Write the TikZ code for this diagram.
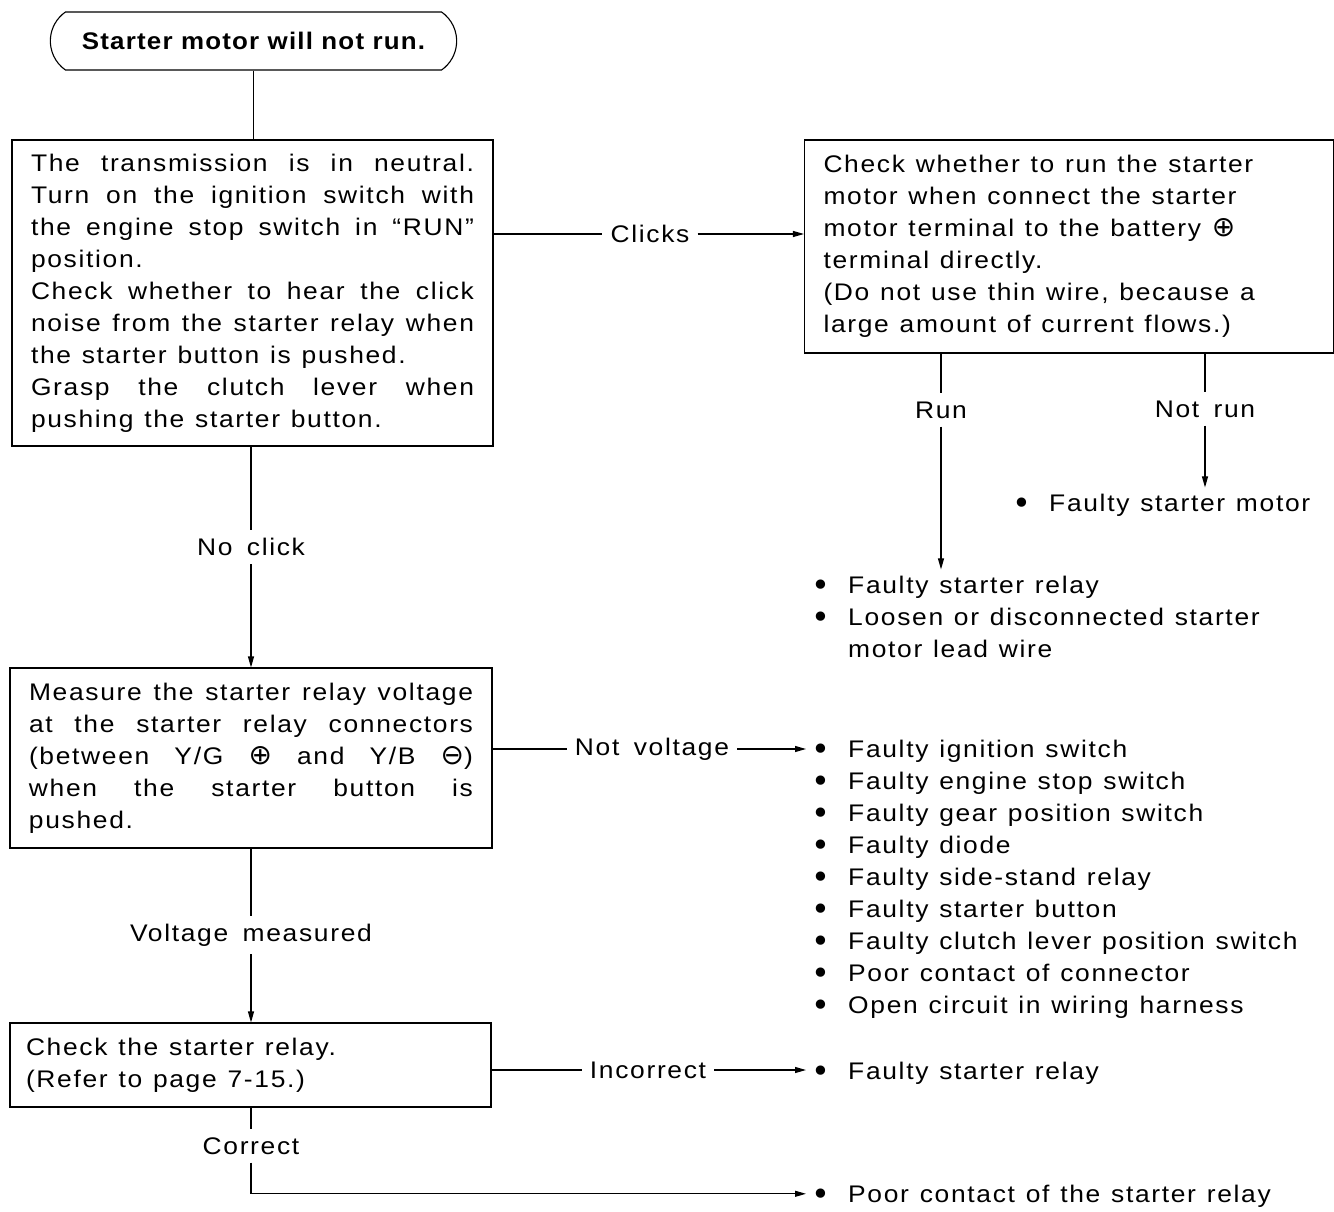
\documentclass[tikz,border=0pt]{standalone}
\usepackage{fontspec}
\setmainfont{Liberation Sans}[FakeStretch=1.1,LetterSpace=7,WordSpace=1.6]
\newfontfamily\titlefont{Liberation Sans Bold}[FakeStretch=1.08,LetterSpace=5]
\newfontfamily\symfont{DejaVu Sans}
\usetikzlibrary{arrows.meta,shapes.misc}
\newcommand{\jl}[2]{\leavevmode\hbox to #1{#2}}
\newcommand{\js}{\hskip 0.3em plus 1fil minus 0.1em\relax}
\newcommand{\wsp}{\spaceskip=0.45em plus 0.2em minus 0.05em\relax}
\newcommand{\myplus}{{\symfont\fontsize{28}{32}\selectfont ⊕}}
\newcommand{\myminus}{{\symfont\fontsize{28}{32}\selectfont ⊖}}
\newcommand{\bul}[1]{\makebox[37pt][l]{\raisebox{-3.5pt}{\symfont\fontsize{32}{32}\selectfont •}}#1}
\newcommand{\ind}[1]{\hspace*{37pt}#1}
\begin{document}
\begin{tikzpicture}[x=1pt,y=-1pt,
  every node/.style={font=\fontsize{24}{32}\selectfont},
  box/.style={draw,line width=1.1pt,inner sep=0pt,align=left,execute at begin node=\wsp},
  lbl/.style={inner sep=8pt},
  lst/.style={inner sep=0pt,anchor=base west,align=left,execute at begin node=\wsp},
  ln/.style={line width=1.1pt},
  arr/.style={-{Triangle[length=11pt,width=6pt]}}]
\useasboundingbox (0,0) rectangle (1334,1212);

\node[draw,line width=1.1pt,rounded rectangle,rounded rectangle arc length=110,
  minimum width=413pt,minimum height=58pt,
  font=\fontsize{24}{28}\selectfont\titlefont] (start) at (253.5,41) {Starter motor will not run.};

\node[box,minimum width=481pt,minimum height=306pt,text width=443pt] (b1) at (252.5,293) {%
\jl{443pt}{The\js transmission\js is\js in\js neutral.}\\
\jl{443pt}{Turn\js on\js the\js ignition\js switch\js with}\\
\jl{443pt}{the\js engine\js stop\js switch\js in\js “RUN”}\\
position.\\
\jl{443pt}{Check\js whether\js to\js hear\js the\js click}\\
\jl{443pt}{noise\js from\js the\js starter\js relay\js when}\\
the starter button is pushed.\\
\jl{443pt}{Grasp\js the\js clutch\js lever\js when}\\
pushing the starter button.};

\node[box,minimum width=529pt,minimum height=213pt,text width=491pt] (b2) at (1069,246.5) {%
Check whether to run the starter\\
motor when connect the starter\\
motor terminal to the battery \myplus\\
terminal directly.\\
(Do not use thin wire, because a\\
large amount of current flows.)};

\node[box,minimum width=482pt,minimum height=180pt,text width=444pt] (b3) at (251,758) {%
\jl{444pt}{Measure\js the\js starter\js relay\js voltage}\\
\jl{444pt}{at\js the\js starter\js relay\js connectors}\\
\jl{444pt}{(between\js Y/G\js \myplus\js and\js Y/B\js \myminus)}\\
\jl{444pt}{when\js the\js starter\js button\js is}\\
pushed.};

\node[box,minimum width=481pt,minimum height=84pt,text width=449pt] (b4) at (250.5,1065) {%
Check the starter relay.\\
(Refer to page 7-15.)};

% labels
\node[lbl] (clicks) at (650,234) {Clicks};
\node[lbl] (run) at (941,410) {Run};
\node[lbl] (notrun) at (1205,409) {Not run};
\node[lbl] (noclick) at (251,547) {No click};
\node[lbl] (notvolt) at (652,749) {Not voltage};
\node[lbl] (vm) at (251,935) {Voltage measured};
\node[lbl] (incorrect) at (648,1070) {Incorrect};
\node[lbl] (correct) at (251,1146) {Correct};

% lists
\node[lst,text width=515pt] (listA) at (811,593) {%
\bul{Faulty starter relay}\\
\bul{Loosen or disconnected starter}\\
\ind{motor lead wire}};
\node[lst,text width=320pt] (listB) at (1012,511) {\bul{Faulty starter motor}};
\node[lst,text width=520pt] (listC) at (811,757) {%
\bul{Faulty ignition switch}\\
\bul{Faulty engine stop switch}\\
\bul{Faulty gear position switch}\\
\bul{Faulty diode}\\
\bul{Faulty side-stand relay}\\
\bul{Faulty starter button}\\
\bul{Faulty clutch lever position switch}\\
\bul{Poor contact of connector}\\
\bul{Open circuit in wiring harness}};
\node[lst,text width=515pt] (listD) at (811,1079) {\bul{Faulty starter relay}};
\node[lst,text width=520pt] (listE) at (811,1202) {\bul{Poor contact of the starter relay}};

% connectors
\draw[ln] (start.south) -- (b1.north -| start.south);
\draw[ln] (b1.east |- clicks) -- (clicks.west);
\draw[ln,arr] (clicks.east) -- (b2.west |- clicks);
\draw[ln] (b2.south -| run) -- (run.north);
\draw[ln,arr,shorten >=6pt] (run.south) -- (run.south |- listA.north);
\draw[ln] (b2.south -| notrun) -- (notrun.north);
\draw[ln,arr,shorten >=6pt] (notrun.south) -- (notrun.south |- listB.north);
\draw[ln] (b1.south -| noclick) -- (noclick.north);
\draw[ln,arr] (noclick.south) -- (noclick.south |- b3.north);
\draw[ln] (b3.east |- notvolt) -- (notvolt.west);
\draw[ln,arr,shorten >=5pt] (notvolt.east) -- (listC.west |- notvolt);
\draw[ln] (b3.south -| vm) -- (vm.north);
\draw[ln,arr] (vm.south) -- (vm.south |- b4.north);
\draw[ln] (b4.east |- incorrect) -- (incorrect.west);
\draw[ln,arr,shorten >=5pt] (incorrect.east) -- (listD.west |- incorrect);
\draw[ln] (b4.south -| correct) -- (correct.north);
\draw[ln,arr,shorten >=5pt] (correct.south) |- ([yshift=2pt]listE.west);
\end{tikzpicture}
\end{document}
